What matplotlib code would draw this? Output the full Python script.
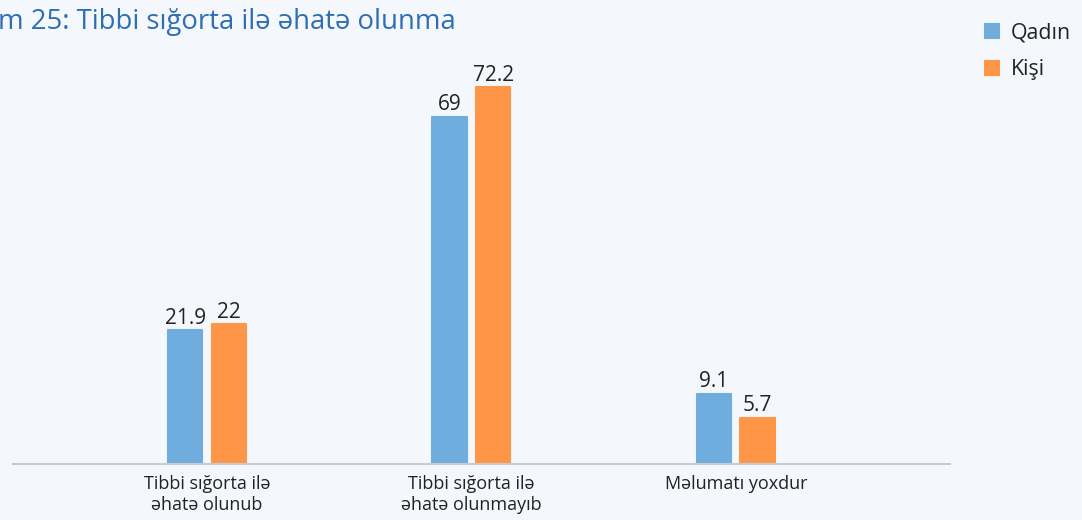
import matplotlib
matplotlib.use("Agg")
import matplotlib.pyplot as plt
import numpy as np

# ---- data ----
categories = ["Tibbi sığorta ilə\nəhatə olunub", "Tibbi sığorta ilə\nəhatə olunmayıb", "Məlumatı yoxdur"]
series_names = ["Qadın", "Kişi"]
qadin_labels = [21.9, 69, 9.1]
kisi_labels = [22, 72.2, 5.7]
# bar heights as drawn in the reference (value units)
qadin_heights = [25.7, 66.6, 13.5]
kisi_heights = [26.8, 72.2, 8.9]
title = "m 25: Tibbi sığorta ilə əhatə olunma"

# ---- style ----
bg = "#F4F8FC"
c_qadin = "#6FADDE"
c_kisi = "#FF9547"
title_color = "#2F6DB5"
text_color = "#222222"
plt.rcParams["font.family"] = ["Open Sans", "DejaVu Sans"]

W, H = 1082, 520
fig = plt.figure(figsize=(W / 100, H / 100), dpi=100, facecolor=bg)
ax_left, ax_right = 13, 949.7
ax_base, ax_top = 464.3, 40
ax = fig.add_axes([ax_left / W, (H - ax_base) / H, (ax_right - ax_left) / W, (ax_base - ax_top) / H])
ax.set_facecolor(bg)

x = np.arange(len(categories))
bw = 0.13
off = 0.0824
b1 = ax.bar(x - off, qadin_heights, width=bw, color=c_qadin, edgecolor=c_qadin,
            linewidth=1.5, joinstyle="round", label=series_names[0], zorder=2)
b2 = ax.bar(x + off, kisi_heights, width=bw, color=c_kisi, edgecolor=c_kisi,
            linewidth=1.5, joinstyle="round", label=series_names[1], zorder=2)

for xs, hs, labs in [(x - off, qadin_heights, qadin_labels), (x + off, kisi_heights, kisi_labels)]:
    for xi, hi, lv in zip(xs, hs, labs):
        ax.annotate(f"{lv:g}", (xi, hi), xytext=(0, 1), textcoords="offset points",
                    ha="center", va="bottom", fontsize=15, color=text_color)

ax.set_xlim(-0.7337, 2.809)
ax.set_ylim(0, (ax_base - ax_top) / 5.2216)
ax.set_xticks(x)
ax.set_xticklabels(categories, fontsize=13, color=text_color, linespacing=1.25)
ax.tick_params(axis="x", length=0, pad=7.5)
ax.set_yticks([])
for s in ["top", "right", "left"]:
    ax.spines[s].set_visible(False)
ax.spines["bottom"].set_color("#C8CACE")
ax.spines["bottom"].set_linewidth(1.5)
ax.spines["bottom"].set_zorder(3)

fig.text(-2 / W, 1 - 22 / H, title, fontsize=19.8, color=title_color, ha="left", va="center")

fig.legend(handles=[b1, b2], labels=series_names, loc="upper left",
           bbox_to_anchor=(966 / W, 1 - 3 / H), frameon=False, fontsize=15.4,
           handlelength=0.65, handleheight=0.65, handletextpad=0.55, labelspacing=0.75,
           labelcolor=text_color)

fig.savefig("out.png", dpi=100, facecolor=bg)
